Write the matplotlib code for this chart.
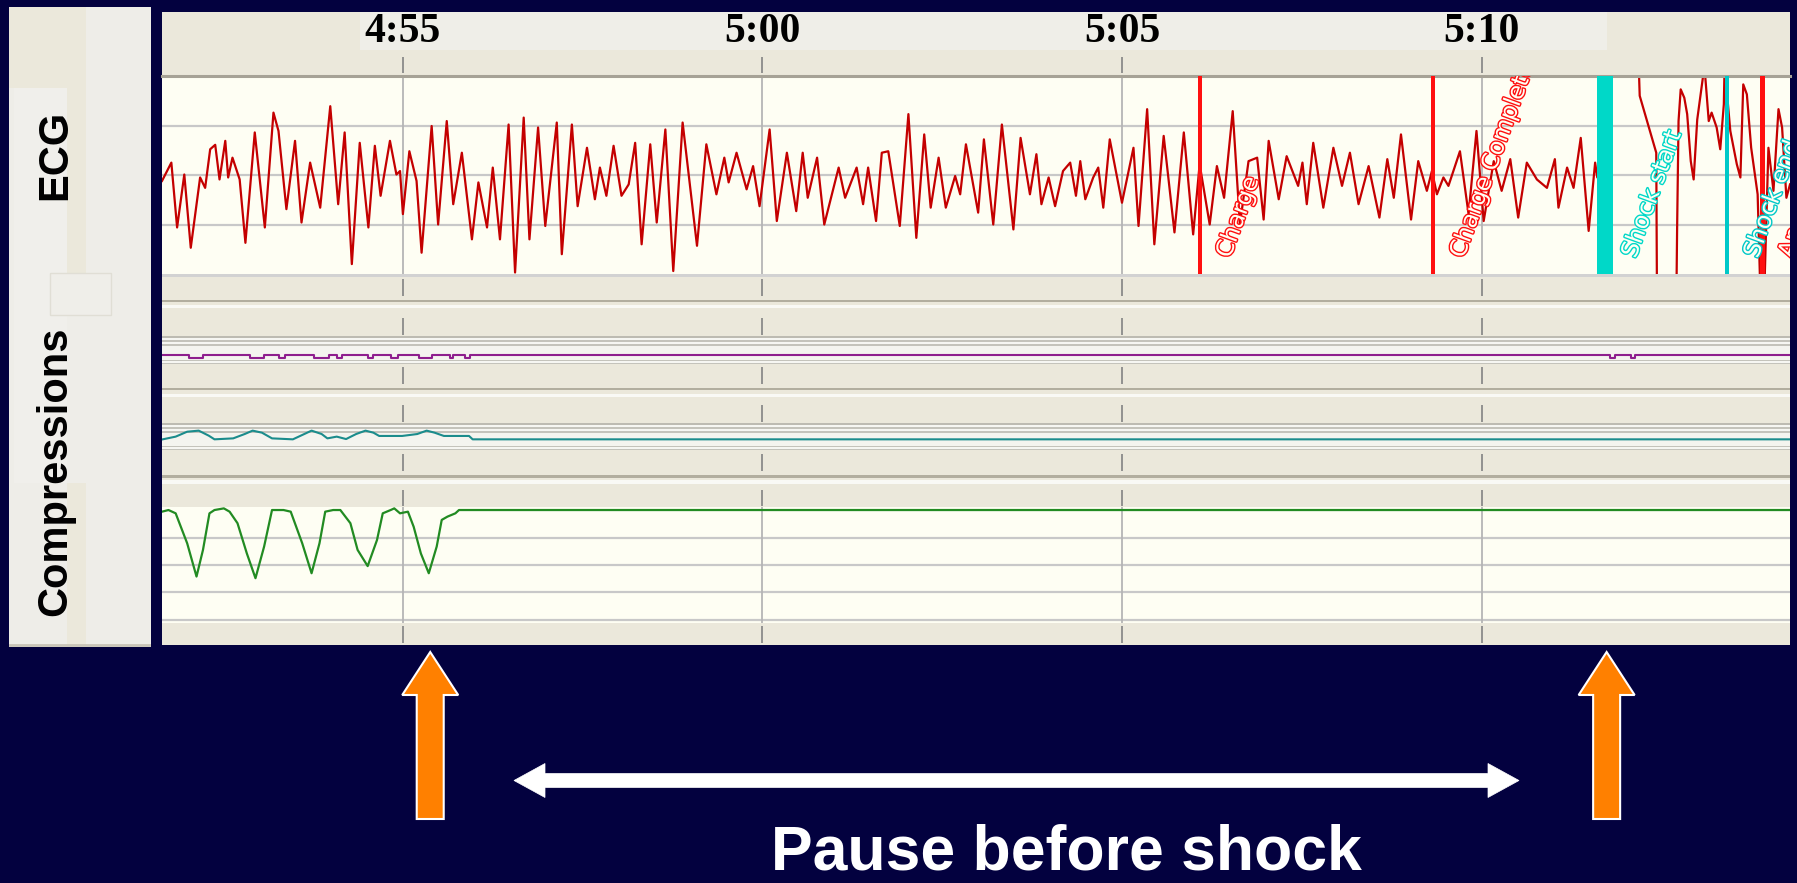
import matplotlib
matplotlib.use('Agg')
import matplotlib.pyplot as plt
import matplotlib.patheffects as pe
from matplotlib.patches import Rectangle, FancyArrow, Polygon

# time window shown on the strip (seconds), 4:55 .. 5:10 ticks
T0, T1 = 291.65, 314.29
tick_t = [295, 300, 305, 310]
tick_labels = ['4:55', '5:00', '5:05', '5:10']

# ECG extrema (time s, amplitude in grid units)
ecg_t = [291.65, 291.78, 291.86, 291.96, 292.05, 292.18, 292.25, 292.32, 292.39, 292.45,
         292.53, 292.57, 292.63, 292.73, 292.81, 292.94, 293.08, 293.20, 293.27, 293.38,
         293.50, 293.59, 293.71, 293.85, 293.99, 294.10, 294.19, 294.29, 294.40, 294.52,
         294.61, 294.69, 294.82, 294.91, 294.96, 295.00, 295.09, 295.19, 295.26, 295.40,
         295.49, 295.61, 295.70, 295.82, 295.96, 296.05, 296.17, 296.25, 296.35, 296.47,
         296.56, 296.68, 296.76, 296.88, 296.98, 297.14, 297.21, 297.35, 297.43, 297.56,
         297.67, 297.74, 297.83, 297.93, 298.04, 298.14, 298.23, 298.32, 298.44, 298.53,
         298.65, 298.76, 298.89, 299.09, 299.22, 299.36, 299.47, 299.53, 299.64, 299.78,
         299.87, 299.96, 300.10, 300.20, 300.34, 300.47, 300.56, 300.63, 300.76, 300.86,
         301.06, 301.15, 301.31, 301.40, 301.47, 301.58, 301.66, 301.75, 301.91, 302.03,
         302.14, 302.25, 302.34, 302.45, 302.55, 302.68, 302.75, 302.83, 303.00, 303.08,
         303.21, 303.33, 303.49, 303.59, 303.72, 303.81, 303.88, 303.98, 304.07, 304.18,
         304.28, 304.36, 304.42, 304.49, 304.60, 304.67, 304.74, 304.83, 305.00, 305.16,
         305.23, 305.35, 305.45, 305.58, 305.73, 305.86, 305.99, 306.08, 306.22, 306.32,
         306.42, 306.54, 306.64, 306.76, 306.88, 306.97, 307.04, 307.18, 307.29, 307.45,
         307.51, 307.57, 307.66, 307.80, 307.94, 308.06, 308.17, 308.29, 308.43, 308.58,
         308.69, 308.78, 308.88, 309.02, 309.12, 309.24, 309.31, 309.38, 309.47, 309.54,
         309.70, 309.82, 309.93, 310.03, 310.17, 310.28, 310.40, 310.51, 310.63, 310.77,
         310.91, 311.02, 311.07, 311.19, 311.28, 311.38, 311.49, 311.58, 311.61, 311.80,
         312.18, 312.20, 312.43, 312.44, 312.71, 312.72, 312.74, 312.77, 312.82, 312.86,
         312.91, 312.95, 313.00, 313.10, 313.16, 313.20, 313.27, 313.32, 313.37, 313.38,
         313.46, 313.55, 313.60, 313.64, 313.69, 313.75, 313.84, 313.88, 313.93, 313.99,
         314.06, 314.13, 314.18, 314.24, 314.29]
ecg_v = [-0.12, 0.25, -1.06, 0.01, -1.47, -0.05, -0.26, 0.52, 0.61, -0.09,
         0.69, -0.05, 0.35, -0.09, -1.37, 0.86, -1.06, 1.26, 0.89, -0.69,
         0.69, -0.96, 0.25, -0.66, 1.39, -0.59, 0.86, -1.80, 0.65, -1.06,
         0.59, -0.42, 0.69, 0.01, 0.08, -0.79, 0.48, -0.12, -1.57, 0.99,
         -1.00, 1.09, -0.59, 0.45, -1.30, -0.15, -1.06, 0.15, -1.30, 1.02,
         -1.97, 1.16, -1.30, 0.96, -1.03, 1.06, -1.60, 1.02, -0.63, 0.55,
         -0.49, 0.15, -0.42, 0.59, -0.42, -0.19, 0.65, -1.40, 0.62, -0.96,
         0.92, -1.94, 1.06, -1.43, 0.62, -0.39, 0.35, -0.15, 0.45, -0.29,
         0.18, -0.63, 0.92, -0.93, 0.45, -0.73, 0.45, -0.46, 0.35, -1.00,
         0.15, -0.46, 0.15, -0.59, 0.15, -0.93, 0.45, 0.48, -1.03, 1.23,
         -1.27, 0.82, -0.66, 0.35, -0.66, -0.02, -0.39, 0.62, -0.76, 0.72,
         -1.00, 1.02, -1.10, 0.75, -0.39, 0.42, -0.59, -0.05, -0.63, 0.08,
         0.25, -0.42, 0.28, -0.49, -0.05, 0.15, -0.66, 0.72, -0.56, 0.55,
         -1.03, 1.33, -1.40, 0.79, -1.16, 0.86, -1.20, 0.22, -1.00, 0.18,
         -0.46, 1.29, -1.00, 0.28, 0.35, -0.90, 0.69, -0.49, 0.38, -0.22,
         0.25, -0.59, 0.65, -0.66, 0.55, -0.22, 0.45, -0.59, 0.18, -0.86,
         0.32, -0.46, 0.82, -0.90, 0.28, -0.32, 0.08, -0.39, -0.05, -0.22,
         0.48, -0.79, 0.89, -0.93, 0.28, -0.32, 0.32, -0.86, 0.25, -0.09,
         -0.26, 0.32, -0.66, 0.15, -0.26, 0.75, -1.13, 0.25, -0.05, 2.5,
         2.5, 1.60, 0.45, -2.5, -2.5, -1.10, 1.09, 1.73, 1.56, 1.23,
         0.28, -0.09, 1.12, 2.2, 1.09, 1.26, 0.96, 0.52, 1.43, 2.2,
         0.89, 0.22, -0.05, 1.83, 1.63, 0.55, -0.39, -2.5, -2.5, 0.55,
         -0.32, 1.33, 0.96, -0.46, -0.19]

# event markers on the ECG strip
event_t = [306.08, 309.33, 311.72, 313.42, 313.90]
event_labels = ['Charge', 'Charge Complete', 'Shock start', 'Shock end', 'Analyze']
event_colors = ['#ff1010', '#ff1010', '#00d8c8', '#00c8c8', '#ff1010']
event_width_px = [4, 4, 16, 4, 5]

# purple channel: step levels
purple_t = [291.65, 292.03, 292.22, 292.88, 293.07, 293.28, 293.36, 293.76, 293.97, 294.08,
            294.16, 294.51, 294.59, 294.83, 294.93, 295.23, 295.41, 295.65, 295.70, 295.86,
            295.94, 311.79, 311.85, 312.08, 312.14, 314.29]
purple_v = [0, -1, 0, -1, 0, -1, 0, -1, 0, -1,
            0, -1, 0, -1, 0, -1, 0, -1, 0, -1,
            0, -1, 0, -1, 0, 0]

# teal channel (impedance-like)
teal_t = [291.66, 291.84, 292.00, 292.16, 292.30, 292.38, 292.64, 292.80, 292.91, 293.04,
          293.18, 293.47, 293.60, 293.73, 293.87, 293.95, 294.08, 294.21, 294.35, 294.48,
          294.59, 294.67, 294.99, 295.20, 295.33, 295.44, 295.57, 295.92, 295.97, 314.29]
teal_v = [-0.19, 0.09, 0.60, 0.71, 0.19, -0.19, -0.09, 0.36, 0.71, 0.50,
          -0.09, -0.19, 0.26, 0.71, 0.36, -0.09, 0.09, -0.16, 0.36, 0.71,
          0.50, 0.16, 0.16, 0.36, 0.71, 0.50, 0.16, 0.16, -0.19, -0.19]

# compression depth (grid units, 0 = baseline)
comp_t = [291.65, 291.74, 291.84, 292.00, 292.13, 292.22, 292.31, 292.38, 292.51, 292.59,
          292.70, 292.83, 292.95, 293.07, 293.18, 293.34, 293.44, 293.60, 293.73, 293.84,
          293.92, 294.03, 294.13, 294.27, 294.37, 294.51, 294.64, 294.72, 294.83, 294.88,
          294.96, 295.07, 295.15, 295.25, 295.36, 295.47, 295.54, 295.62, 295.73, 295.78,
          314.29]
comp_v = [-0.06, 0, -0.12, -1.21, -2.42, -1.45, -0.12, 0, 0.06, -0.06,
          -0.48, -1.58, -2.48, -1.33, 0, 0, -0.06, -1.21, -2.30, -1.21,
          -0.06, 0, 0, -0.48, -1.45, -2.04, -1.09, -0.12, 0, 0.06,
          -0.12, -0.06, -0.61, -1.58, -2.30, -1.33, -0.36, -0.24, -0.12, 0,
          0]

# pause annotation: end of compressions and shock
arrow_times = [295.38, 311.74]

NAVY = '#03013f'
BEIGE = '#ebe8db'
CREAM = '#fefef3'
GRID = '#c8c8c8'
W, H = 1797, 883
X0, X1 = 162, 1790

fig = plt.figure(figsize=(W / 100, H / 100), dpi=100, facecolor=NAVY)


def px_axes(x0, y0, x1, y1, zorder=1):
    ax = fig.add_axes([x0 / W, 1 - y1 / H, (x1 - x0) / W, (y1 - y0) / H], zorder=zorder)
    ax.set_xticks([])
    ax.set_yticks([])
    for s in ax.spines.values():
        s.set_visible(False)
    return ax


def t2px(t):
    return X0 + (t - T0) / (T1 - T0) * (X1 - X0)


def px2t(x):
    return T0 + (x - X0) / (X1 - X0) * (T1 - T0)


# left label panel
lp = px_axes(9, 7, 151, 647)
lp.set_xlim(9, 151)
lp.set_ylim(647, 7)
lp.set_facecolor('#eeede8')
for x0, y0, x1, y1, c in [(9, 7, 86, 88, BEIGE), (67, 88, 86, 273, BEIGE),
                          (67, 483, 86, 645, BEIGE), (14, 88, 67, 483, '#f0efeb')]:
    lp.add_patch(Rectangle((x0, y0), x1 - x0, y1 - y0, color=c, lw=0))
lp.add_patch(Rectangle((50, 273), 61, 42, fc='#efeee9', ec='#e0ded5', lw=1))
lp.axhline(645, color='#c9c5b8', lw=2)
for lab, yc in [('ECG', 155), ('Compressions', 471)]:
    lp.text(55, yc, lab, rotation=90, ha='center', va='center', fontsize=30,
            fontweight='bold', family='Liberation Sans', color='black')

# main panel background bands
bg = px_axes(X0, 12, X1, 645)
bg.set_xlim(T0, T1)
bg.set_ylim(645, 12)
bg.set_facecolor(BEIGE)
bg.add_patch(Rectangle((px2t(360), 12), px2t(1607) - px2t(360), 38, color='#efeee8', lw=0))
bands = [(274, 277, '#d2d2d2'), (300, 302, '#b2ae9f'), (305, 308, '#f9f9f5'),
         (336, 338, '#bdbbb2'), (338, 340, '#f6f6f2'), (340, 342, '#c4c3bb'),
         (342, 344, '#f6f6f2'), (344, 346, '#c4c3bb'), (346, 360, '#f4f4ef'),
         (360, 361, '#c4c3bb'), (361, 363, '#f6f6f2'), (363, 364, '#c4c3bb'),
         (388, 390, '#b2ae9f'), (394, 397, '#f9f9f5'),
         (423, 425, '#bdbbb2'), (425, 427, '#f6f6f2'), (427, 429, '#c4c3bb'),
         (429, 431, '#f6f6f2'), (431, 433, '#c4c3bb'), (433, 446, '#f4f4ef'),
         (446, 447, '#c4c3bb'), (447, 449, '#f6f6f2'), (449, 450, '#c4c3bb'),
         (475, 478, '#b2ae9f'), (480, 484, '#f9f9f5')]
for y0, y1, c in bands:
    bg.axhspan(y0, y1, color=c, lw=0)
for y0, y1 in [(57, 73), (279, 296), (318, 335), (367, 384), (405, 422),
               (454, 471), (490, 506), (626, 643)]:
    bg.vlines(tick_t, y0, y1, color='#8a8a8a', lw=1.3)
for t, lab in zip(tick_t, tick_labels):
    bg.text(t, 32, lab, ha='center', va='center', family='Liberation Serif',
            fontweight='bold', fontsize=30, color='black')

# ECG strip
ecg = px_axes(X0, 76, X1, 274, zorder=2)
ecg.set_facecolor(CREAM)
ecg.set_xlim(T0, T1)
ecg.set_ylim(-2, 2)
ecg.spines['top'].set_visible(True)
ecg.spines['top'].set_color('#a6a296')
ecg.spines['top'].set_linewidth(2.2)
for g in (-1, 0, 1):
    ecg.axhline(g, color=GRID, lw=1.6)
ecg.vlines(tick_t, -2, 2, color='#b5b5b5', lw=1.3)
ecg.plot(ecg_t, ecg_v, color='#c40000', lw=1.6)
for t, lab, c, w in zip(event_t, event_labels, event_colors, event_width_px):
    ecg.axvline(t, color=c, lw=w * 0.72, zorder=4)
    ecg.text(t + 0.33, -1.65, lab, rotation=70, rotation_mode='anchor', ha='left',
             va='center', fontsize=17, family='DejaVu Sans', color=CREAM,
             clip_on=True, zorder=5,
             path_effects=[pe.withStroke(linewidth=2.0, foreground=c)])

# purple and teal channels
pu = px_axes(X0, 340, X1, 370, zorder=3)
pu.set_facecolor('none')
pu.set_xlim(T0, T1)
pu.set_ylim(-5, 5)
pu.plot(purple_t, purple_v, color='#8e1f8e', lw=1.5, drawstyle='steps-post')

te = px_axes(X0, 423, X1, 452, zorder=3)
te.set_facecolor('none')
te.set_xlim(T0, T1)
te.set_ylim(-1.5, 1.5)
te.plot(teal_t, teal_v, color='#1b8c8c', lw=1.5)

# compression depth strip
cp = px_axes(X0, 507, X1, 623, zorder=2)
cp.set_facecolor(CREAM)
cp.set_xlim(T0, T1)
cp.set_ylim(-4.11, 0.11)
for g in (-1, -2, -3, -4):
    cp.axhline(g, color=GRID, lw=1.6)
cp.vlines(tick_t, -4.11, 0.11, color='#b5b5b5', lw=1.3)
cp.plot(comp_t, comp_v, color='#228b22', lw=1.6)

# annotations in the navy area
ov = px_axes(0, 0, W, H, zorder=6)
ov.set_facecolor('none')
ov.set_xlim(0, W)
ov.set_ylim(H, 0)
for t in arrow_times:
    x = t2px(t)
    ov.add_patch(FancyArrow(x, 819, 0, -167, width=27, head_width=56, head_length=43,
                            length_includes_head=True, fc='#ff8000', ec='white', lw=1.5))
yc = 780.5
ov.add_patch(Polygon([(514, yc), (545, yc - 17), (545, yc - 7), (1488, yc - 7),
                      (1488, yc - 17), (1519, yc), (1488, yc + 17), (1488, yc + 7),
                      (545, yc + 7), (545, yc + 17)], closed=True, fc='white', ec='white', lw=0.5))
ov.text(1066, 869, 'Pause before shock', ha='center', va='baseline', color='white',
        fontsize=45, fontweight='bold', family='Liberation Sans')

fig.savefig('out.png', dpi=100, facecolor=NAVY)
